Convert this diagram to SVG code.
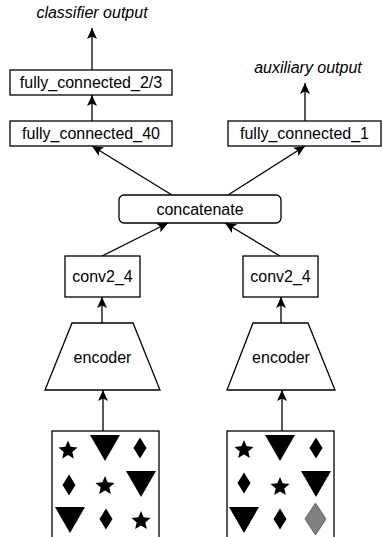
<svg xmlns="http://www.w3.org/2000/svg" width="383" height="537" viewBox="0 0 383 537">
<style>
.box{fill:#fff;stroke:#000;stroke-width:1.3}
.lbl{font-family:"Liberation Sans",Arial,sans-serif;font-size:16px;fill:#000;text-anchor:middle;dominant-baseline:central}
.out{font-family:"Liberation Sans",Arial,sans-serif;font-size:16px;font-style:italic;fill:#000;text-anchor:middle}
.edge{fill:none;stroke:#000;stroke-width:1.3;marker-end:url(#arr)}
.blk{fill:#000}
</style>
<defs>
<marker id="arr" viewBox="0 0 11 10" refX="11" refY="5" markerWidth="11" markerHeight="10" markerUnits="userSpaceOnUse" orient="auto">
<path d="M0,0 L11,5 L0,10 L2.5,5 Z" fill="#000"/>
</marker>
<path id="star" d="M0,-10 L2.645,-3.64 L9.511,-3.09 L4.28,1.39 L5.878,8.09 L0,4.5 L-5.878,8.09 L-4.28,1.39 L-9.511,-3.09 L-2.645,-3.64 Z"/>
<path id="dia" d="M0,-10.5 L6.5,0 L0,10.5 L-6.5,0 Z"/>
<path id="tri" d="M-15,-13 L15,-13 L0,13 Z"/>
</defs>

<g id="connectors">
<line class="edge" x1="92" y1="70" x2="92" y2="28"/>
<line class="edge" x1="92" y1="121" x2="92" y2="95"/>
<line class="edge" x1="305" y1="121" x2="305" y2="83"/>
<line class="edge" x1="172" y1="195" x2="92" y2="146"/>
<line class="edge" x1="228" y1="195" x2="305" y2="146"/>
<line class="edge" x1="102" y1="256" x2="168" y2="223"/>
<line class="edge" x1="280" y1="256" x2="225" y2="223"/>
<line class="edge" x1="102" y1="323" x2="102" y2="297"/>
<line class="edge" x1="281" y1="323" x2="281" y2="297"/>
<line class="edge" x1="103" y1="431" x2="103" y2="390"/>
<line class="edge" x1="282" y1="431" x2="282" y2="390"/>
</g>

<g id="classifier_output"><text class="out" x="92" y="18">classifier output</text></g>
<g id="auxiliary_output"><text class="out" x="308" y="73">auxiliary output</text></g>

<g id="fc23"><rect class="box" x="10" y="70" width="162" height="25"/><text class="lbl" x="91" y="82.5">fully_connected_2/3</text></g>
<g id="fc40"><rect class="box" x="10" y="121" width="162" height="25"/><text class="lbl" x="91" y="133.5">fully_connected_40</text></g>
<g id="fc1"><rect class="box" x="228" y="121" width="153" height="25"/><text class="lbl" x="304.5" y="133.5">fully_connected_1</text></g>
<g id="concatenate"><rect class="box" x="119" y="195" width="162" height="28" rx="5"/><text class="lbl" x="200" y="209">concatenate</text></g>
<g id="conv_left"><rect class="box" x="65" y="256" width="75" height="41"/><text class="lbl" x="102.5" y="276.5">conv2_4</text></g>
<g id="conv_right"><rect class="box" x="243" y="256" width="75" height="41"/><text class="lbl" x="280.5" y="276.5">conv2_4</text></g>
<g id="encoder_left"><path class="box" d="M72,323 L133,323 L160,390 L45,390 Z"/><text class="lbl" x="102.5" y="357">encoder</text></g>
<g id="encoder_right"><path class="box" d="M253,323 L308,323 L335,390 L227,390 Z"/><text class="lbl" x="281" y="357">encoder</text></g>

<g id="images_left">
<rect class="box" x="52" y="431" width="107" height="120"/>
<use href="#star" x="68" y="450.5" class="blk"/>
<use href="#tri" x="105" y="448" class="blk"/>
<use href="#dia" x="140" y="448" class="blk"/>
<use href="#dia" x="69" y="485" class="blk"/>
<use href="#star" x="105" y="486" class="blk"/>
<use href="#tri" x="141" y="484" class="blk"/>
<use href="#tri" x="70" y="520" class="blk"/>
<use href="#dia" x="106" y="519" class="blk"/>
<use href="#star" x="141" y="521" class="blk"/>
</g>
<g id="images_right">
<rect class="box" x="227" y="431" width="107" height="120"/>
<use href="#star" x="244" y="450" class="blk"/>
<use href="#tri" x="280" y="448" class="blk"/>
<use href="#dia" x="316" y="448" class="blk"/>
<use href="#dia" x="244" y="483" class="blk"/>
<use href="#star" x="280" y="487" class="blk"/>
<use href="#tri" x="316" y="484" class="blk"/>
<use href="#tri" x="244" y="520" class="blk"/>
<use href="#dia" x="280" y="519" class="blk"/>
<path d="M315.5,503 L326,519 L315.5,535 L305,519 Z" fill="#808080" stroke="#666" stroke-width="1"/>
</g>
</svg>
